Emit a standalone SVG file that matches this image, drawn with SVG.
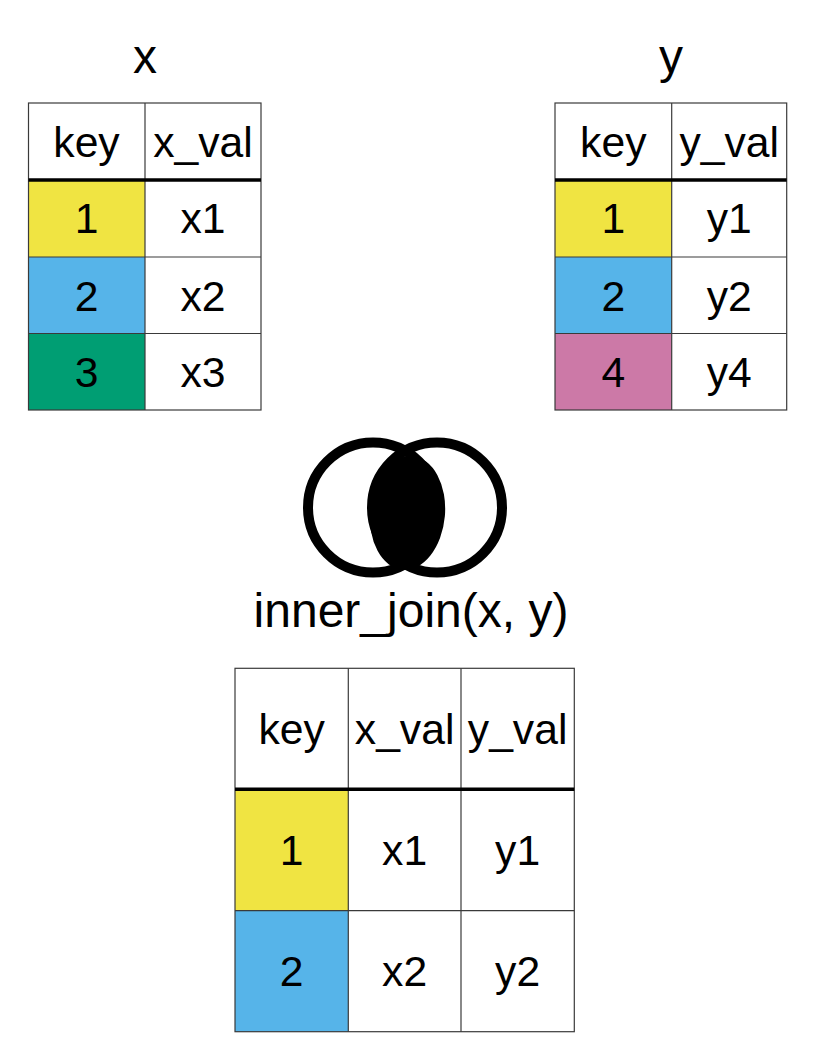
<svg xmlns="http://www.w3.org/2000/svg" width="816" height="1056" viewBox="0 0 816 1056">
<style>
.t{font-family:"Liberation Sans",Arial,sans-serif;fill:#000;text-anchor:middle}
.title{font-size:48px}
.cell{font-size:42.67px}
.g{stroke:#3a3a3a;stroke-width:1.2;fill:none}
.thick{stroke:#000;stroke-width:3.5}
.ring{fill:none;stroke:#000;stroke-width:10}
</style>
<rect width="816" height="1056" fill="#fff"/>
<g id="title-x"><text class="t title" x="145" y="72.5">x</text></g>
<g id="title-y"><text class="t title" x="671" y="72.5">y</text></g>
<g id="table-x">
<rect x="28.5" y="180" width="116.5" height="77" fill="#F0E442"/>
<rect x="28.5" y="257" width="116.5" height="76.5" fill="#56B4E9"/>
<rect x="28.5" y="333.5" width="116.5" height="76.5" fill="#009E73"/>
<rect class="g" x="28.5" y="103" width="232.5" height="307"/>
<line class="g" x1="145" y1="103" x2="145" y2="410"/>
<line class="g" x1="28.5" y1="257" x2="261" y2="257"/>
<line class="g" x1="28.5" y1="333.5" x2="261" y2="333.5"/>
<line class="thick" x1="28.5" y1="180" x2="261" y2="180"/>
<text class="t cell" x="86.5" y="156.5">key</text>
<text class="t cell" x="203" y="156.5">x_val</text>
<text class="t cell" x="86.5" y="233">1</text>
<text class="t cell" x="203" y="233">x1</text>
<text class="t cell" x="86.5" y="310.5">2</text>
<text class="t cell" x="203" y="310.5">x2</text>
<text class="t cell" x="86.5" y="386.5">3</text>
<text class="t cell" x="203" y="386.5">x3</text>
</g>
<g id="table-y">
<rect x="555" y="180" width="116.7" height="77" fill="#F0E442"/>
<rect x="555" y="257" width="116.7" height="76.5" fill="#56B4E9"/>
<rect x="555" y="333.5" width="116.7" height="76.5" fill="#CC79A7"/>
<rect class="g" x="555" y="103" width="231.7" height="307"/>
<line class="g" x1="671.7" y1="103" x2="671.7" y2="410"/>
<line class="g" x1="555" y1="257" x2="786.7" y2="257"/>
<line class="g" x1="555" y1="333.5" x2="786.7" y2="333.5"/>
<line class="thick" x1="555" y1="180" x2="786.7" y2="180"/>
<text class="t cell" x="613.3" y="156.5">key</text>
<text class="t cell" x="729.2" y="156.5">y_val</text>
<text class="t cell" x="613.3" y="233">1</text>
<text class="t cell" x="729.2" y="233">y1</text>
<text class="t cell" x="613.3" y="310.5">2</text>
<text class="t cell" x="729.2" y="310.5">y2</text>
<text class="t cell" x="613.3" y="386.5">4</text>
<text class="t cell" x="729.2" y="386.5">y4</text>
</g>
<g id="venn">
<ellipse cx="407.5" cy="513" rx="37.5" ry="57" fill="#000" transform="rotate(5 407.5 513)"/>
<circle class="ring" cx="373" cy="507.5" r="65"/>
<circle class="ring" cx="437" cy="507.5" r="65"/>
</g>
<g id="label-join"><text class="t title" x="411" y="626.5">inner_join(x, y)</text></g>
<g id="table-result">
<rect x="235" y="789.3" width="113.3" height="121.4" fill="#F0E442"/>
<rect x="235" y="910.7" width="113.3" height="121" fill="#56B4E9"/>
<rect class="g" x="235" y="668.3" width="339.3" height="363.4"/>
<line class="g" x1="348.3" y1="668.3" x2="348.3" y2="1031.7"/>
<line class="g" x1="461" y1="668.3" x2="461" y2="1031.7"/>
<line class="g" x1="235" y1="910.7" x2="574.3" y2="910.7"/>
<line class="thick" x1="235" y1="789.3" x2="574.3" y2="789.3"/>
<text class="t cell" x="291.6" y="743.5">key</text>
<text class="t cell" x="404.6" y="743.5">x_val</text>
<text class="t cell" x="517.6" y="743.5">y_val</text>
<text class="t cell" x="291.6" y="865">1</text>
<text class="t cell" x="404.6" y="865">x1</text>
<text class="t cell" x="517.6" y="865">y1</text>
<text class="t cell" x="291.6" y="985.5">2</text>
<text class="t cell" x="404.6" y="985.5">x2</text>
<text class="t cell" x="517.6" y="985.5">y2</text>
</g>
</svg>
